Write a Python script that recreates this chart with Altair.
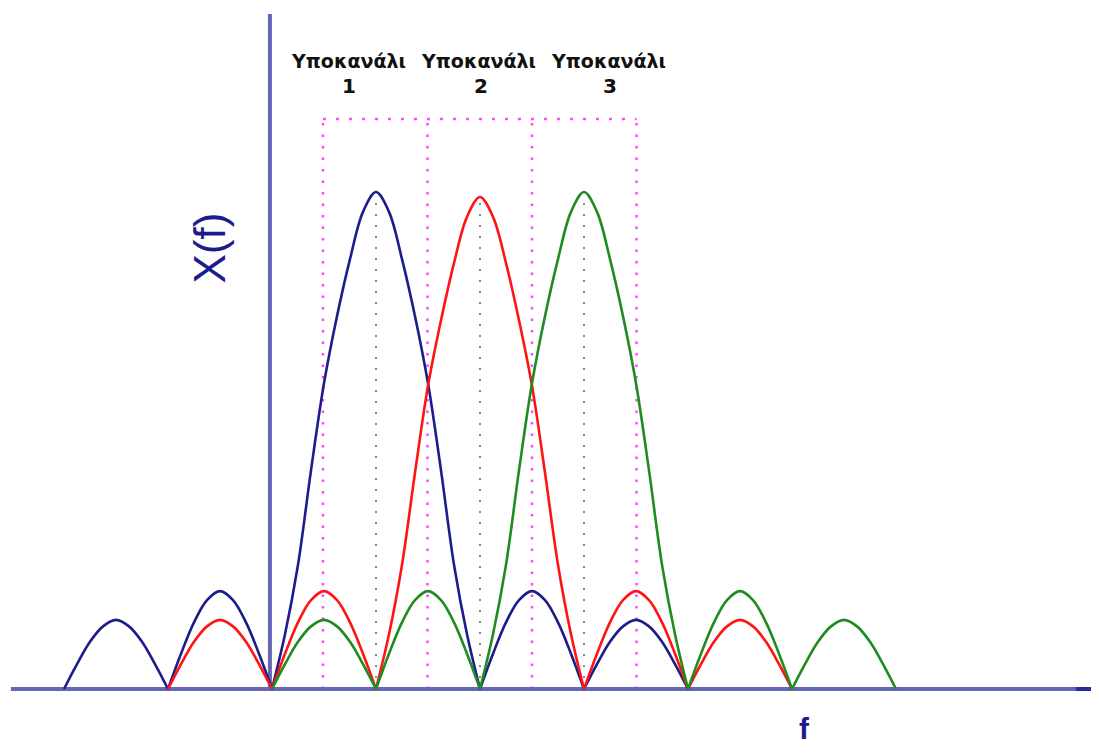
import altair as alt
import pandas as pd
import numpy as np

# ---- data (u: frequency in subcarrier spacings, v: relative |X(f)|) ----
STEP = 0.125
BLUE_CENTER, RED_CENTER, GREEN_CENTER = 0.0, 1.0, 2.0

blue_v = [0, 0.050, 0.095, 0.126, 0.139, 0.126, 0.095, 0.050,
          0, 0.071, 0.134, 0.179, 0.197, 0.179, 0.134, 0.071,
          0, 0.11, 0.25, 0.44, 0.615, 0.75, 0.865, 0.96, 1.00, 0.96, 0.865, 0.75, 0.615, 0.44, 0.25, 0.11,
          0, 0.071, 0.134, 0.179, 0.197, 0.179, 0.134, 0.071,
          0, 0.050, 0.095, 0.126, 0.139, 0.126, 0.095, 0.050, 0]
red_v = [0, 0.050, 0.095, 0.126, 0.139, 0.126, 0.095, 0.050,
         0, 0.071, 0.134, 0.179, 0.197, 0.179, 0.134, 0.071,
         0, 0.11, 0.25, 0.435, 0.61, 0.742, 0.857, 0.95, 0.99, 0.95, 0.857, 0.742, 0.61, 0.435, 0.25, 0.11,
         0, 0.071, 0.134, 0.179, 0.197, 0.179, 0.134, 0.071,
         0, 0.050, 0.095, 0.126, 0.139, 0.126, 0.095, 0.050, 0]
green_v = [0, 0.050, 0.095, 0.126, 0.139, 0.126, 0.095, 0.050,
           0, 0.071, 0.134, 0.179, 0.197, 0.179, 0.134, 0.071,
           0, 0.11, 0.25, 0.44, 0.615, 0.75, 0.865, 0.96, 1.00, 0.96, 0.865, 0.75, 0.615, 0.44, 0.25, 0.11,
           0, 0.071, 0.134, 0.179, 0.197, 0.179, 0.134, 0.071,
           0, 0.050, 0.095, 0.126, 0.139, 0.126, 0.095, 0.050, 0]

subchannel_words = ["Υποκανάλι", "Υποκανάλι", "Υποκανάλι"]
subchannel_nums = ["1", "2", "3"]
band_edges = [-0.51, 0.495, 1.5, 2.505]      # magenta dotted band limits
centers = [BLUE_CENTER, RED_CENTER, GREEN_CENTER]

# ---- layout constants ----
W, H = 1083, 739
X_DOMAIN = [-3.5385, 6.875]
Y_DOMAIN = [-0.1167, 1.3702]
xs = alt.Scale(domain=X_DOMAIN, nice=False, zero=False)
ys = alt.Scale(domain=Y_DOMAIN, nice=False, zero=False)

NAVY = "#1c1c8c"
AXIS = "#6666b6"
MAGENTA = "#ff44ff"


def series_df(center, values):
    """Split the series into lobes (zero to zero) so each lobe is its own smooth path."""
    rows = []
    lobe = 0
    for i, val in enumerate(values):
        u = center - 3 + STEP * i
        if val == 0 and 0 < i < len(values) - 1:
            rows.append({"u": u, "v": val, "lobe": lobe})
            lobe += 1
        rows.append({"u": u, "v": val, "lobe": lobe})
    df = pd.DataFrame(rows)
    df = df.groupby("lobe").filter(lambda g: len(g) > 1)
    return df


def X(field="u"):
    return alt.X(f"{field}:Q", scale=xs, axis=None)


def Y(field="v"):
    return alt.Y(f"{field}:Q", scale=ys, axis=None)


# axes
haxis = alt.Chart(pd.DataFrame({"u": [-3.51], "u2": [6.875], "v": [0]})).mark_rule(
    color=AXIS, strokeWidth=4).encode(x=X(), x2="u2:Q", y=Y())
haxis_end = alt.Chart(pd.DataFrame({"u": [6.73], "u2": [6.875], "v": [0]})).mark_rule(
    color="#2a2a9e", strokeWidth=4).encode(x=X(), x2="u2:Q", y=Y())
vaxis = alt.Chart(pd.DataFrame({"u": [-1.02], "v": [0], "v2": [1.358]})).mark_rule(
    color=AXIS, strokeWidth=4).encode(x=X(), y=Y(), y2="v2:Q")

# magenta dotted bands
mag_v = alt.Chart(pd.DataFrame({"u": band_edges, "v": [0] * 4, "v2": [1.147] * 4})).mark_rule(
    color=MAGENTA, strokeWidth=2.5, strokeDash=[2.5, 9]).encode(x=X(), y=Y(), y2="v2:Q")
mag_h = alt.Chart(pd.DataFrame({"u": [band_edges[0]], "u2": [band_edges[-1]], "v": [1.147]})).mark_rule(
    color=MAGENTA, strokeWidth=2.5, strokeDash=[3, 10]).encode(x=X(), x2="u2:Q", y=Y())

# grey center dotted lines
grey = alt.Chart(pd.DataFrame({"u": centers, "v": [0] * 3, "v2": [0.985] * 3})).mark_rule(
    color="#8a8a8a", strokeWidth=2, strokeDash=[2, 9]).encode(x=X(), y=Y(), y2="v2:Q")


# curves
def curve(df, color):
    return alt.Chart(df).mark_line(color=color, strokeWidth=2.6, interpolate="catmull-rom").encode(
        x=X(), y=Y(), detail="lobe:N", order="u:Q")


blue = curve(series_df(BLUE_CENTER, blue_v), NAVY)
red = curve(series_df(RED_CENTER, red_v), "#ff1414")
green = curve(series_df(GREEN_CENTER, green_v), "#1e8c1e")

# texts
lab1 = alt.Chart(pd.DataFrame({"u": [-0.26, 0.99, 2.24], "v": [1.2495] * 3, "t": subchannel_words})).mark_text(
    font="DejaVu Sans", fontWeight="bold", fontSize=19, color="#111111", align="center", baseline="alphabetic"
).encode(x=X(), y=Y(), text="t:N")
lab2 = alt.Chart(pd.DataFrame({"u": [-0.26, 1.01, 2.25], "v": [1.1992] * 3, "t": subchannel_nums})).mark_text(
    font="DejaVu Sans", fontWeight="bold", fontSize=20, color="#111111", align="center", baseline="alphabetic"
).encode(x=X(), y=Y(), text="t:N")
ylab = alt.Chart(pd.DataFrame({"u": [-1.577], "v": [0.887], "t": ["X(f)"]})).mark_text(
    font="Liberation Sans", fontSize=44, color=NAVY, angle=270, align="center", baseline="middle"
).encode(x=X(), y=Y(), text="t:N")
xlab = alt.Chart(pd.DataFrame({"u": [4.115], "v": [-0.112], "t": ["f"]})).mark_text(
    font="Liberation Sans", fontWeight="bold", fontSize=30, color=NAVY, align="center", baseline="bottom"
).encode(x=X(), y=Y(), text="t:N")

chart = alt.layer(
    mag_v, mag_h, grey, haxis, haxis_end, vaxis, blue, red, green, lab1, lab2, ylab, xlab
).properties(
    width=W, height=H, padding=0, autosize=alt.AutoSizeParams(type="none")
).configure(background="white", view=alt.ViewConfig(stroke=None))

chart.save("out.html", embed_options={"renderer": "svg", "actions": False})
